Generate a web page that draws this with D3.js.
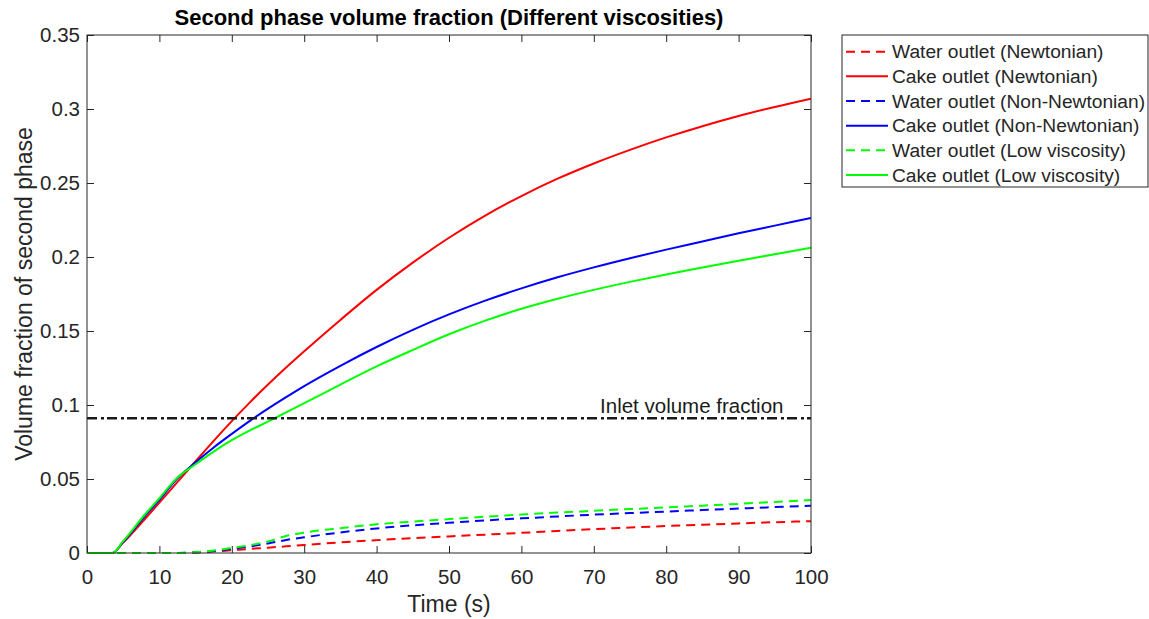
<!DOCTYPE html>
<html>
<head>
<meta charset="utf-8">
<script src="https://cdn.jsdelivr.net/npm/d3@7/dist/d3.min.js"></script>
<style>
  html, body { margin: 0; padding: 0; background: #fff; }
  svg { display: block; font-family: "Liberation Sans", Arial, Helvetica, sans-serif; }
</style>
</head>
<body>
<svg id="chart" width="1149" height="619"></svg>
<script>
// Sample times (s)
const time = [0, 3.5, 5, 8, 10, 12.5, 15, 17.5, 20, 22.5, 25, 27.5, 30, 35, 40, 45, 50, 55, 60, 65, 70, 75, 80, 85, 90, 95, 100];

// Second phase volume fraction at the water outlet
const waterNewtonian    = [0, 0, 0, 0, 0, 0, 0.0003, 0.001, 0.0019, 0.0028, 0.0036, 0.0045, 0.0054, 0.0072, 0.0087, 0.0100, 0.0112, 0.0124, 0.0136, 0.0149, 0.0161, 0.0172, 0.0182, 0.0191, 0.0200, 0.0208, 0.0215];
const waterNonNewtonian = [0, 0, 0, 0, 0, 0, 0.0004, 0.0013, 0.0027, 0.0044, 0.0064, 0.0088, 0.0106, 0.0139, 0.0166, 0.0187, 0.0204, 0.0220, 0.0234, 0.0247, 0.0259, 0.0270, 0.0280, 0.0290, 0.0300, 0.0310, 0.0319];
const waterLowViscosity = [0, 0, 0, 0, 0, 0, 0.0005, 0.0017, 0.0034, 0.0053, 0.0078, 0.0115, 0.0138, 0.0168, 0.0194, 0.0212, 0.0229, 0.0245, 0.0260, 0.0273, 0.0285, 0.0297, 0.0308, 0.0320, 0.0332, 0.0345, 0.0358];

// Second phase volume fraction at the cake outlet
const cakeNewtonian    = [0, 0, 0.007, 0.023, 0.034, 0.048, 0.062, 0.0758, 0.0891, 0.1018, 0.1138, 0.1253, 0.1363, 0.1575, 0.1778, 0.1962, 0.2130, 0.2280, 0.2412, 0.2529, 0.2632, 0.2724, 0.2808, 0.2884, 0.2953, 0.3014, 0.3070];
const cakeNonNewtonian = [0, 0, 0.0075, 0.025, 0.036, 0.0505, 0.0613, 0.0713, 0.0805, 0.0893, 0.0975, 0.1053, 0.1128, 0.1265, 0.1392, 0.1508, 0.1612, 0.1705, 0.1788, 0.1863, 0.1930, 0.1992, 0.2050, 0.2105, 0.2160, 0.2212, 0.2264];
const cakeLowViscosity = [0, 0, 0.008, 0.026, 0.037, 0.051, 0.0600, 0.0685, 0.0762, 0.0828, 0.0888, 0.0950, 0.1012, 0.1138, 0.1261, 0.1372, 0.1478, 0.1570, 0.1650, 0.1718, 0.1778, 0.1832, 0.1882, 0.1929, 0.1975, 0.2019, 0.2063];

const inletFraction = 0.091;

const seriesNames = [
  "Water outlet (Newtonian)",
  "Cake outlet (Newtonian)",
  "Water outlet (Non-Newtonian)",
  "Cake outlet (Non-Newtonian)",
  "Water outlet (Low viscosity)",
  "Cake outlet (Low viscosity)"
];
const seriesValues = [waterNewtonian, cakeNewtonian, waterNonNewtonian, cakeNonNewtonian, waterLowViscosity, cakeLowViscosity];
const seriesColors = ["#ff0000", "#ff0000", "#0000ff", "#0000ff", "#00ff00", "#00ff00"];
const seriesDashed = [true, false, true, false, true, false];

const xTicks = [0, 10, 20, 30, 40, 50, 60, 70, 80, 90, 100];
const xTickLabels = ["0", "10", "20", "30", "40", "50", "60", "70", "80", "90", "100"];
const yTicks = [0, 0.05, 0.1, 0.15, 0.2, 0.25, 0.3, 0.35];
const yTickLabels = ["0", "0.05", "0.1", "0.15", "0.2", "0.25", "0.3", "0.35"];

const titleText = "Second phase volume fraction (Different viscosities)";
const xLabel = "Time (s)";
const yLabel = "Volume fraction of second phase";
const inletLabel = "Inlet volume fraction";

(function draw() {
  const svg = d3.select("#chart");
  const pL = 87, pR = 811, pT = 35, pB = 553;
  const axisColor = "#262626";
  const tickLen = 7;

  const x = d3.scaleLinear().domain([0, 100]).range([pL, pR]);
  const y = d3.scaleLinear().domain([0, 0.35]).range([pB, pT]);

  svg.append("rect").attr("width", 1149).attr("height", 619).attr("fill", "#fff");

  // Axes with inward ticks on all four sides
  function styleAxis(g) {
    g.select(".domain").remove();
    g.selectAll(".tick line").attr("stroke", axisColor).attr("stroke-width", 1);
    g.selectAll(".tick text").attr("fill", axisColor).attr("font-size", 20.5)
      .attr("font-family", "Liberation Sans, Arial, sans-serif");
  }

  svg.append("g")
    .attr("transform", `translate(0,${pB})`)
    .call(d3.axisBottom(x).tickValues(xTicks).tickFormat((d, i) => xTickLabels[i])
      .tickSizeInner(-tickLen).tickSizeOuter(0).tickPadding(16))
    .call(styleAxis);

  svg.append("g")
    .attr("transform", `translate(0,${pT})`)
    .call(d3.axisTop(x).tickValues(xTicks).tickFormat("")
      .tickSizeInner(-tickLen).tickSizeOuter(0))
    .call(styleAxis);

  svg.append("g")
    .attr("transform", `translate(${pL},0)`)
    .call(d3.axisLeft(y).tickValues(yTicks).tickFormat((d, i) => yTickLabels[i])
      .tickSizeInner(-tickLen).tickSizeOuter(0).tickPadding(7))
    .call(styleAxis);

  svg.append("g")
    .attr("transform", `translate(${pR},0)`)
    .call(d3.axisRight(y).tickValues(yTicks).tickFormat("")
      .tickSizeInner(-tickLen).tickSizeOuter(0))
    .call(styleAxis);

  // Series curves, clipped to the plot box
  svg.append("clipPath").attr("id", "plotClip")
    .append("rect").attr("x", pL).attr("y", pT - 2)
    .attr("width", pR - pL).attr("height", pB - pT + 4);

  const line = d3.line()
    .x((d, i) => x(time[i]))
    .y(d => y(d))
    .curve(d3.curveMonotoneX);

  const plot = svg.append("g").attr("clip-path", "url(#plotClip)");

  seriesValues.forEach((vals, k) => {
    plot.append("path")
      .datum(vals)
      .attr("d", line)
      .attr("fill", "none")
      .attr("stroke", seriesColors[k])
      .attr("stroke-width", 2)
      .attr("stroke-dasharray", seriesDashed[k] ? "9,6" : null);
  });

  // Inlet volume fraction reference line
  plot.append("line")
    .attr("x1", x(0)).attr("x2", x(100))
    .attr("y1", y(inletFraction)).attr("y2", y(inletFraction))
    .attr("stroke", "#1a1a1a")
    .attr("stroke-width", 2.5)
    .attr("stroke-dasharray", "10,4,3,3");

  svg.append("text")
    .attr("x", x(96.2)).attr("y", y(inletFraction) - 5)
    .attr("text-anchor", "end")
    .attr("font-size", 20.5)
    .attr("fill", "#1a1a1a")
    .text(inletLabel);

  // Axes box
  svg.append("rect")
    .attr("x", pL).attr("y", pT)
    .attr("width", pR - pL).attr("height", pB - pT)
    .attr("fill", "none")
    .attr("stroke", axisColor)
    .attr("stroke-width", 1);

  // Title and axis labels
  svg.append("text")
    .attr("x", (pL + pR) / 2).attr("y", 25)
    .attr("text-anchor", "middle")
    .attr("font-size", 22).attr("font-weight", "bold")
    .attr("fill", "#000")
    .text(titleText);

  svg.append("text")
    .attr("x", (pL + pR) / 2).attr("y", 612)
    .attr("text-anchor", "middle")
    .attr("font-size", 23)
    .attr("fill", axisColor)
    .text(xLabel);

  svg.append("text")
    .attr("transform", `translate(32,${(pT + pB) / 2}) rotate(-90)`)
    .attr("text-anchor", "middle")
    .attr("font-size", 23)
    .attr("fill", axisColor)
    .text(yLabel);

  // Legend
  const legend = svg.append("g");
  const lgX = 842, lgY = 35, lgW = 306, lgH = 152;
  legend.append("rect")
    .attr("x", lgX).attr("y", lgY).attr("width", lgW).attr("height", lgH)
    .attr("fill", "#fff").attr("stroke", axisColor).attr("stroke-width", 1);

  const rowY = d3.scalePoint().domain(d3.range(seriesNames.length)).range([51.7, 175]);

  seriesNames.forEach((name, k) => {
    const yy = rowY(k);
    legend.append("line")
      .attr("x1", 846).attr("x2", 888)
      .attr("y1", yy).attr("y2", yy)
      .attr("stroke", seriesColors[k])
      .attr("stroke-width", 2)
      .attr("stroke-dasharray", seriesDashed[k] ? "9,6" : null);
    legend.append("text")
      .attr("x", 892).attr("y", yy)
      .attr("dy", "0.35em")
      .attr("font-size", 19.2)
      .attr("fill", axisColor)
      .text(name);
  });
})();
</script>
</body>
</html>
